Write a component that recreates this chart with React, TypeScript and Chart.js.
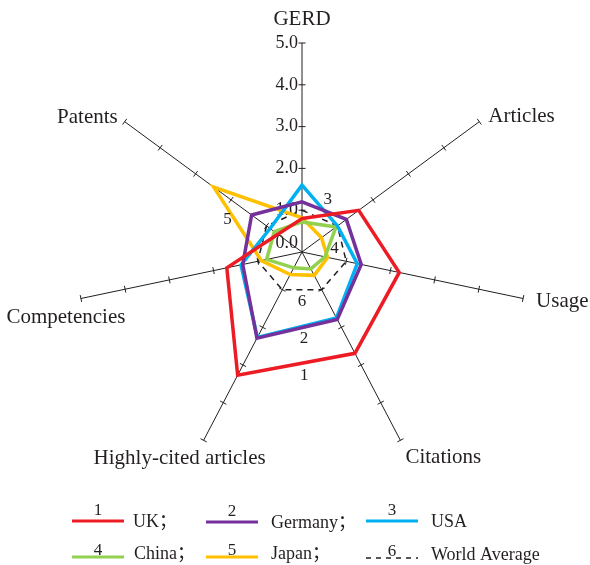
import React, { useEffect, useRef } from 'react';
import { Chart, registerables, RadialLinearScale } from 'chart.js';

Chart.register(...registerables);

// ---------- data ----------
const CATEGORIES = ['GERD', 'Articles', 'Usage', 'Citations', 'Highly-cited articles', 'Competencies', 'Patents'];
const SERIES_NAMES = ['UK', 'Germany', 'USA', 'China', 'Japan', 'World Average'];
const SERIES_NUMBERS = ['1', '2', '3', '4', '5', '6'];
const UK = [0.8, 1.6, 2.2, 2.69, 3.27, 1.7, 0.68];
const GERMANY = [1.2, 1.25, 1.34, 1.79, 2.29, 1.34, 1.42];
const USA = [1.6, 1.0, 1.25, 1.75, 2.27, 1.38, 0.9];
const CHINA = [0.72, 0.96, 0.52, 0.45, 0.42, 0.8, 0.78];
const JAPAN = [0.82, 0.55, 0.58, 0.62, 0.6, 0.92, 2.49];
const WORLD = [1, 1, 1, 1, 1, 1, 1];
const TICK_VALUES = [0, 1, 2, 3, 4, 5];
const TICK_LABELS = ['0.0', '1.0', '2.0', '3.0', '4.0', '5.0'];
const LEGEND_SEPARATORS = ['；', '；', '', '；', '；', ''];

// ---------- styles ----------
const SERIES_COLORS = ['#ed1c24', '#74309b', '#00b0f0', '#92d050', '#ffc000', '#231f20'];
const INK = '#231f20';
const SERIF = '"Liberation Serif", "Noto Sans CJK SC", serif';
const X_STRETCH = 1.085;

// axis title placement relative to axis end: [dx, dy, align]
const TITLE_PLACE: [number, number, CanvasTextAlign][] = [
  [0, -18, 'center'],
  [9, 0, 'left'],
  [13, 8, 'left'],
  [5, 23, 'left'],
  [-24, 24, 'center'],
  [-15, 24, 'center'],
  [-7, 1, 'right'],
];
// series number annotations: [dataset, vertexA, vertexB, dx, dy]
const NUMBER_PLACE = [
  [0, 3, 4, 8, 11],
  [1, 3, 4, 7, 9.5],
  [2, 0, 1, 8, -6],
  [3, 1, 2, 4, 7],
  [4, 6, 5, -10, -4],
  [5, 3, 4, 0, 12],
];
const LEGEND_SLOTS = [
  { x: 72, y: 521, tx: 133, row: 0 },
  { x: 206, y: 522, tx: 271, row: 0 },
  { x: 366, y: 521, tx: 431, row: 0 },
  { x: 72, y: 557, tx: 134, row: 1 },
  { x: 206, y: 557, tx: 271, row: 1 },
  { x: 366, y: 558, tx: 431, row: 1 },
];

class EllipticalRadialScale extends RadialLinearScale {
  static id = 'ellipticalRadial';
  getPointPosition(index: number, distanceFromCenter: number, angleOffset = 0) {
    const p = super.getPointPosition(index, distanceFromCenter, angleOffset);
    return { x: this.xCenter + (p.x - this.xCenter) * X_STRETCH, y: p.y, angle: p.angle };
  }
}
Chart.register(EllipticalRadialScale);

const decorPlugin = {
  id: 'decor',
  beforeDatasetsDraw(chart: any) {
    const scale = chart.scales.r;
    const ctx: CanvasRenderingContext2D = chart.ctx;
    ctx.save();
    ctx.strokeStyle = INK;
    ctx.lineWidth = 1;
    ctx.beginPath();
    for (let i = 0; i < CATEGORIES.length; i++) {
      const end = scale.getPointPosition(i, scale.drawingArea);
      const dx = end.x - scale.xCenter;
      const dy = end.y - scale.yCenter;
      const len = Math.hypot(dx, dy);
      const nx = -dy / len;
      const ny = dx / len;
      for (const v of TICK_VALUES) {
        if (v === 0) continue;
        const p = scale.getPointPositionForValue(i, v);
        ctx.moveTo(p.x - nx * 3.5, p.y - ny * 3.5);
        ctx.lineTo(p.x + nx * 3.5, p.y + ny * 3.5);
      }
    }
    ctx.stroke();

    // tick labels on the first axis
    ctx.fillStyle = INK;
    ctx.font = `18px ${SERIF}`;
    ctx.textAlign = 'right';
    ctx.textBaseline = 'middle';
    TICK_VALUES.forEach((v, k) => {
      const p = scale.getPointPositionForValue(0, v);
      ctx.fillText(TICK_LABELS[k], p.x - 4, p.y + (v === 0 ? -9 : 0));
    });

    // axis titles
    ctx.font = `21px ${SERIF}`;
    ctx.textBaseline = 'alphabetic';
    CATEGORIES.forEach((label, i) => {
      const end = scale.getPointPosition(i, scale.drawingArea);
      const [dx, dy, align] = TITLE_PLACE[i];
      ctx.textAlign = align;
      ctx.fillText(label, end.x + dx, end.y + dy);
    });
    ctx.restore();
  },
  afterDatasetsDraw(chart: any) {
    const scale = chart.scales.r;
    const ctx: CanvasRenderingContext2D = chart.ctx;
    ctx.save();
    ctx.fillStyle = INK;
    ctx.font = `17px ${SERIF}`;
    ctx.textAlign = 'center';
    ctx.textBaseline = 'middle';
    NUMBER_PLACE.forEach(([ds, a, b, dx, dy]) => {
      const data = chart.data.datasets[ds].data;
      const pa = scale.getPointPositionForValue(a, data[a]);
      const pb = scale.getPointPositionForValue(b, data[b]);
      ctx.fillText(SERIES_NUMBERS[ds], (pa.x + pb.x) / 2 + dx, (pa.y + pb.y) / 2 + dy);
    });
    ctx.restore();
  },
  afterDraw(chart: any) {
    const ctx: CanvasRenderingContext2D = chart.ctx;
    ctx.save();
    chart.data.datasets.forEach((ds: any, i: number) => {
      const s = LEGEND_SLOTS[i];
      ctx.beginPath();
      ctx.strokeStyle = ds.borderColor;
      ctx.lineWidth = i === 5 ? 1.5 : 3;
      ctx.setLineDash(i === 5 ? [5, 5] : []);
      ctx.moveTo(s.x, s.y);
      ctx.lineTo(s.x + 52, s.y);
      ctx.stroke();
      ctx.setLineDash([]);
      ctx.fillStyle = INK;
      ctx.textBaseline = 'alphabetic';
      ctx.textAlign = 'center';
      ctx.font = `17px ${SERIF}`;
      ctx.fillText(SERIES_NUMBERS[i], s.x + 26, s.y - (s.row === 0 ? 6 : 2.5));
      ctx.textAlign = 'left';
      ctx.font = `18px ${SERIF}`;
      ctx.fillText(SERIES_NAMES[i] + LEGEND_SEPARATORS[i], s.tx, s.y + (s.row === 0 ? 5.5 : 2));
    });
    ctx.restore();
  },
};

export default function App() {
  const ref = useRef<HTMLCanvasElement>(null);
  useEffect(() => {
    const series = [UK, GERMANY, USA, CHINA, JAPAN, WORLD];
    const chart = new Chart(ref.current as HTMLCanvasElement, {
      type: 'radar',
      data: {
        labels: CATEGORIES,
        datasets: series.map((d, i) => ({
          label: SERIES_NAMES[i],
          data: d,
          borderColor: SERIES_COLORS[i],
          backgroundColor: 'transparent',
          borderWidth: i === 5 ? 1.5 : 3.5,
          borderDash: i === 5 ? [6, 5] : [],
          borderJoinStyle: 'miter',
          fill: false,
          pointRadius: 0,
          pointHoverRadius: 0,
          tension: 0,
        })),
      },
      options: {
        responsive: false,
        animation: false,
        events: [],
        layout: { padding: { left: 93, top: 43, right: 79, bottom: 104 } },
        plugins: { legend: { display: false }, tooltip: { enabled: false } },
        scales: {
          r: {
            type: 'ellipticalRadial',
            min: 0,
            max: 5,
            ticks: { display: false, stepSize: 1 },
            grid: { display: false },
            angleLines: { display: true, color: INK, lineWidth: 1 },
            pointLabels: { display: false },
          } as any,
        },
      } as any,
      plugins: [decorPlugin],
    } as any);
    return () => chart.destroy();
  }, []);
  return (
    <div style={{ position: 'absolute', left: 0, top: 0, width: 590, height: 565, background: '#fff' }}>
      <canvas ref={ref} width={590} height={565} style={{ display: 'block', width: 590, height: 565 }} />
    </div>
  );
}
